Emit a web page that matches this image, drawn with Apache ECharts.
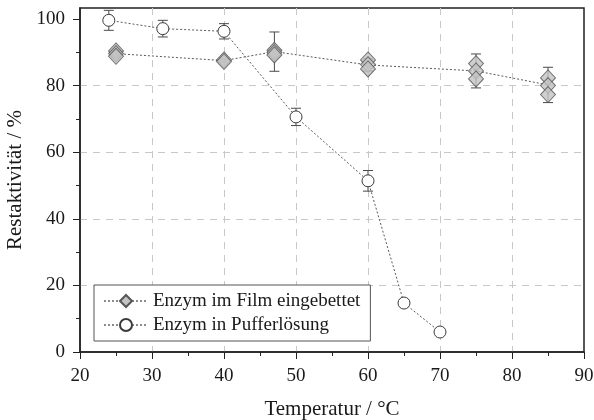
<!DOCTYPE html>
<html>
<head>
<meta charset="utf-8">
<script src="https://cdn.jsdelivr.net/npm/echarts@6/dist/echarts.min.js"></script>
<style>
  html, body { margin: 0; padding: 0; background: #fff; }
  #chart { width: 594px; height: 420px; }
</style>
</head>
<body>
<div id="chart"></div>
<script>
// Residual activity (%) versus temperature (°C)

// Enzyme embedded in film: individual measurements per temperature
const filmTemps = [25, 40, 47, 60, 75, 85];
const filmReplicates = [
  [90.4, 89.6, 88.8],
  [87.7, 87.2],
  [90.6, 89.9, 89.2],
  [87.7, 86.3, 85.0],
  [86.6, 84.4, 82.0],
  [82.3, 80.0, 77.3]
];
// Mean values and error for the film series
const filmMeans = [89.6, 87.5, 90.2, 86.2, 84.4, 80.2];
const filmErrors = [1.0, 0.5, 5.9, 1.8, 5.1, 5.3];

// Enzyme in buffer solution
const bufferTemps = [24, 31.5, 40, 50, 60, 65, 70];
const bufferValues = [99.6, 97.1, 96.3, 70.6, 51.4, 14.7, 6.0];
const bufferErrors = [3.0, 2.5, 2.3, 2.6, 3.1, 0, 0];

// Axis ticks
const xTicks = [20, 30, 40, 50, 60, 70, 80, 90];
const yTicks = [0, 20, 40, 60, 80, 100];
const yMinorTicks = [10, 30, 50, 70, 90];

const seriesNames = ['Enzym im Film eingebettet', 'Enzym in Pufferlösung'];

const FONT = "'Liberation Serif', 'Times New Roman', serif";
const TEXT = '#1a1a1a';

function pairs(xs, ys) {
  return xs.map((x, i) => [x, ys[i]]);
}

function errorBars(xs, ys, errs) {
  return {
    type: 'custom',
    silent: true,
    z: 2,
    encode: { x: 0, y: [1, 2] },
    data: xs.map((x, i) => [x, ys[i] - errs[i], ys[i] + errs[i]]),
    renderItem: function (params, api) {
      const x = api.value(0);
      const lo = api.coord([x, api.value(1)]);
      const hi = api.coord([x, api.value(2)]);
      if (Math.abs(lo[1] - hi[1]) < 0.5) return null;
      const w = 5;
      const style = { stroke: '#4a4a4a', lineWidth: 1, fill: null };
      return {
        type: 'group',
        children: [
          { type: 'line', shape: { x1: lo[0], y1: lo[1], x2: hi[0], y2: hi[1] }, style: style },
          { type: 'line', shape: { x1: lo[0] - w, y1: lo[1], x2: lo[0] + w, y2: lo[1] }, style: style },
          { type: 'line', shape: { x1: hi[0] - w, y1: hi[1], x2: hi[0] + w, y2: hi[1] }, style: style }
        ]
      };
    }
  };
}

const filmPoints = [];
filmTemps.forEach((t, i) => {
  filmReplicates[i].forEach(v => filmPoints.push([t, v]));
});

const diamondStyle = { color: '#c3c3c3', borderColor: '#555555', borderWidth: 1 };
const circleStyle = { color: '#ffffff', borderColor: '#3a3a3a', borderWidth: 1 };
const dotted = { color: '#5a5a5a', width: 1, type: [2, 2] };
const gridLine = { color: '#c8c8c8', width: 1, type: [7, 6] };

const chart = echarts.init(document.getElementById('chart'), null, { renderer: 'canvas' });

chart.setOption({
  animation: false,
  backgroundColor: '#ffffff',
  textStyle: { fontFamily: FONT, color: TEXT },
  grid: {
    left: 80, right: 10, top: 8, bottom: 68,
    show: true, borderColor: '#222', borderWidth: 1.5,
    backgroundColor: 'transparent',
    containLabel: false,
    outerBoundsMode: 'none'
  },
  legend: {
    data: seriesNames,
    orient: 'vertical',
    left: 94, top: 285,
    padding: [6, 10, 6, 9],
    itemWidth: 44, itemHeight: 15, itemGap: 4,
    borderColor: '#555', borderWidth: 1,
    backgroundColor: '#fff',
    lineStyle: { color: '#8c8c8c' },
    textStyle: { fontFamily: FONT, fontSize: 19, color: TEXT, lineHeight: 20 },
    selectedMode: false
  },
  xAxis: {
    type: 'value',
    min: 20, max: 90, interval: 10,
    name: 'Temperatur / °C',
    nameLocation: 'middle',
    nameGap: 47,
    nameTextStyle: { fontFamily: FONT, fontSize: 21, color: TEXT },
    axisLine: { show: true, onZero: false, lineStyle: { color: '#222', width: 1.5 } },
    axisTick: { show: true, inside: false, length: 7, lineStyle: { color: '#222', width: 1 } },
    minorTick: { show: true, splitNumber: 2, length: 4, lineStyle: { color: '#222', width: 1 } },
    axisLabel: {
      fontFamily: FONT, fontSize: 19, color: TEXT, margin: 15,
      customValues: xTicks
    },
    splitLine: { show: true, showMinLine: false, showMaxLine: false, lineStyle: gridLine }
  },
  yAxis: [
    {
      type: 'value',
      min: 0, max: 103.3,
      position: 'left',
      name: 'Restaktivität / %',
      nameLocation: 'middle',
      nameGap: 53,
      nameTextStyle: { fontFamily: FONT, fontSize: 21, color: TEXT },
      axisLine: { show: true, onZero: false, lineStyle: { color: '#222', width: 1.5 } },
      axisTick: { show: true, inside: false, length: 7, customValues: yTicks, lineStyle: { color: '#222', width: 1 } },
      axisLabel: {
        fontFamily: FONT, fontSize: 19, color: TEXT, margin: 15,
        customValues: yTicks
      },
      splitLine: { show: true, showMinLine: false, showMaxLine: false, lineStyle: gridLine }
    },
    {
      // minor ticks on the left axis
      type: 'value',
      min: 0, max: 103.3,
      position: 'left',
      axisLine: { show: false },
      axisTick: { show: true, inside: false, length: 4, customValues: yMinorTicks, lineStyle: { color: '#222', width: 1 } },
      axisLabel: { show: false },
      splitLine: { show: false }
    }
  ],
  series: [
    errorBars(filmTemps, filmMeans, filmErrors),
    errorBars(bufferTemps, bufferValues, bufferErrors),
    {
      name: seriesNames[0],
      type: 'line',
      data: pairs(filmTemps, filmMeans),
      showSymbol: false,
      symbol: 'diamond',
      symbolSize: [15, 16],
      itemStyle: diamondStyle,
      lineStyle: dotted,
      z: 3,
      silent: true
    },
    {
      type: 'scatter',
      data: filmPoints,
      symbol: 'diamond',
      symbolSize: [15, 16],
      itemStyle: diamondStyle,
      z: 4,
      silent: true
    },
    {
      name: seriesNames[1],
      type: 'line',
      data: pairs(bufferTemps, bufferValues),
      symbol: 'circle',
      symbolSize: 12,
      showAllSymbol: true,
      itemStyle: circleStyle,
      lineStyle: dotted,
      z: 5,
      silent: true
    }
  ]
});
</script>
</body>
</html>
